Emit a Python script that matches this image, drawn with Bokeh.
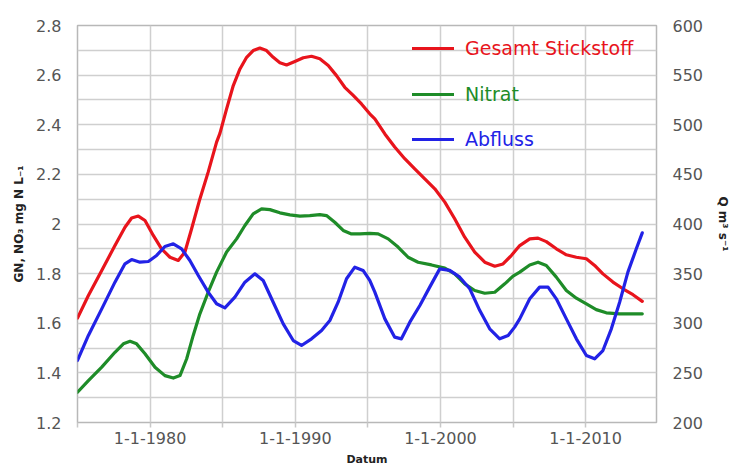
from bokeh.plotting import figure
from bokeh.models import (Range1d, LinearAxis, FixedTicker, CustomJSTickFormatter,
                          Legend, LegendItem)
from bokeh.embed import file_html
from bokeh.resources import INLINE

# ---------------- data ----------------
gn_year = [1975.0, 1975.75, 1976.67, 1977.58, 1978.27, 1978.73, 1979.19, 1979.65, 1980.22,
           1980.79, 1981.37, 1981.94, 1982.4, 1982.86, 1983.43, 1984.0, 1984.58, 1984.81,
           1985.27, 1985.73, 1986.19, 1986.65, 1987.1, 1987.56, 1988.02, 1988.48, 1988.94,
           1989.4, 1989.97, 1990.55, 1991.12, 1991.69, 1992.27, 1992.84, 1993.41, 1993.99,
           1994.56, 1995.13, 1995.48, 1996.17, 1996.85, 1997.54, 1998.23, 1998.92, 1999.61,
           2000.3, 2000.98, 2001.67, 2002.36, 2003.05, 2003.74, 2004.31, 2004.88, 2005.46,
           2006.15, 2006.72, 2007.29, 2007.98, 2008.67, 2009.36, 2010.05, 2010.62, 2011.19,
           2011.88, 2012.57, 2013.26, 2013.9]
gn_value = [1.621, 1.712, 1.813, 1.913, 1.987, 2.024, 2.032, 2.014, 1.954,
            1.900, 1.866, 1.853, 1.887, 1.981, 2.101, 2.209, 2.330, 2.365,
            2.464, 2.558, 2.625, 2.672, 2.699, 2.709, 2.699, 2.672, 2.650,
            2.641, 2.655, 2.670, 2.676, 2.666, 2.639, 2.598, 2.551, 2.518,
            2.484, 2.444, 2.424, 2.363, 2.310, 2.263, 2.222, 2.182, 2.142,
            2.088, 2.021, 1.947, 1.887, 1.846, 1.830, 1.839, 1.873, 1.913,
            1.940, 1.943, 1.929, 1.900, 1.876, 1.866, 1.860, 1.833, 1.799,
            1.766, 1.739, 1.715, 1.688]

no3_year = [1975.0, 1975.75, 1976.67, 1977.58, 1978.16, 1978.62, 1979.07, 1979.65, 1980.34,
            1981.02, 1981.6, 1982.06, 1982.52, 1982.97, 1983.43, 1984.0, 1984.58, 1985.27,
            1985.96, 1986.53, 1987.1, 1987.68, 1988.25, 1988.94, 1989.63, 1990.32, 1991.0,
            1991.69, 1992.15, 1992.72, 1993.3, 1993.87, 1994.45, 1995.13, 1995.71, 1996.4,
            1997.08, 1997.77, 1998.46, 1999.38, 2000.3, 2000.98, 2001.67, 2002.36, 2003.05,
            2003.74, 2004.43, 2005.0, 2005.46, 2006.15, 2006.72, 2007.29, 2007.98, 2008.67,
            2009.36, 2010.05, 2010.73, 2011.42, 2012.34, 2013.26, 2013.9]
no3_value = [1.322, 1.369, 1.423, 1.483, 1.517, 1.527, 1.517, 1.477, 1.423,
             1.389, 1.379, 1.389, 1.457, 1.551, 1.638, 1.725, 1.806, 1.887,
             1.940, 1.994, 2.041, 2.061, 2.058, 2.045, 2.037, 2.032, 2.034,
             2.038, 2.034, 2.007, 1.974, 1.960, 1.960, 1.962, 1.960, 1.940,
             1.907, 1.866, 1.846, 1.835, 1.822, 1.799, 1.759, 1.732, 1.721,
             1.725, 1.759, 1.790, 1.806, 1.835, 1.846, 1.833, 1.786, 1.732,
             1.701, 1.678, 1.655, 1.642, 1.638, 1.638, 1.638]

q_year = [1975.0, 1975.75, 1976.67, 1977.58, 1978.27, 1978.73, 1979.3, 1979.88, 1980.45,
          1981.02, 1981.6, 1982.17, 1982.74, 1983.32, 1984.0, 1984.58, 1985.15, 1985.84,
          1986.53, 1987.22, 1987.79, 1988.48, 1989.17, 1989.86, 1990.43, 1991.12, 1991.81,
          1992.38, 1992.95, 1993.53, 1994.1, 1994.67, 1995.13, 1995.48, 1996.17, 1996.85,
          1997.31, 1997.89, 1998.58, 1999.26, 1999.95, 2000.64, 2001.33, 2002.02, 2002.71,
          2003.39, 2004.08, 2004.66, 2005.11, 2005.46, 2006.15, 2006.83, 2007.41, 2007.98,
          2008.67, 2009.36, 2010.05, 2010.62, 2011.19, 2011.77, 2012.34, 2012.91, 2013.49,
          2013.9]
q_value = [262.5, 287.7, 314.5, 341.4, 359.9, 364.2, 361.5, 362.2, 368.3,
           377.3, 380.0, 375.0, 363.2, 348.1, 331.3, 319.6, 315.5, 326.3,
           341.4, 349.8, 343.1, 321.2, 299.4, 282.6, 277.6, 284.3, 292.7,
           302.8, 321.2, 344.8, 356.5, 353.2, 343.1, 331.3, 304.4, 286.0,
           284.3, 301.1, 317.9, 336.4, 354.8, 353.2, 346.4, 334.7, 312.8,
           294.4, 284.3, 287.7, 296.1, 304.4, 324.6, 336.4, 336.4, 324.6,
           304.4, 284.3, 267.5, 264.2, 272.5, 294.4, 321.2, 351.5, 375.0,
           391.1]

series_names = ["Gesamt Stickstoff", "Nitrat", "Abfluss"]
series_colors = ["#e8141c", "#1e8c28", "#2222e6"]

x_grid_ticks = [1975, 1980, 1985, 1990, 1995, 2000, 2005, 2010, 2015]
left_ticks = [1.2, 1.4, 1.6, 1.8, 2.0, 2.2, 2.4, 2.6, 2.8]
left_grid_ticks = [round(1.2 + 0.1 * i, 1) for i in range(17)]
right_ticks = [200, 250, 300, 350, 400, 450, 500, 550, 600]

x_title = "Datum"
left_title = "GN, NO₃ mg N L₋₁"
right_title = "Q m³ s⁻¹"

# ---------------- figure ----------------
FONT = "DejaVu Sans"
p = figure(width=733, height=468, output_backend="svg", toolbar_location=None,
           x_range=Range1d(1975, 2014.88), y_range=Range1d(1.2, 2.8),
           min_border_left=77, min_border_right=76, min_border_top=25,
           min_border_bottom=46)
p.extra_y_ranges = {"q": Range1d(200, 600)}
p.background_fill_color = "white"
p.border_fill_color = "white"
p.outline_line_color = "#b8b8b8"
p.outline_line_width = 1.5

# grids
p.xgrid.ticker = FixedTicker(ticks=x_grid_ticks)
p.ygrid.ticker = FixedTicker(ticks=left_grid_ticks)
for g in (p.xgrid[0], p.ygrid[0]):
    g.grid_line_color = "#cfcfcf"
    g.grid_line_width = 1.5

# bottom axis
xa = p.xaxis[0]
xa.ticker = FixedTicker(ticks=x_grid_ticks)
xa.formatter = CustomJSTickFormatter(code="return (Math.round(tick) % 10 == 0) ? '1-1-' + Math.round(tick) : '';")
xa.axis_line_color = None
xa.major_tick_line_color = "#c8c8c8"
xa.major_tick_line_width = 1.5
xa.major_tick_in = 0
xa.major_tick_out = 5
xa.minor_tick_line_color = None
xa.major_label_standoff = 4
xa.major_label_text_font = FONT
xa.major_label_text_font_size = "16px"
xa.major_label_text_color = "#555555"
xa.axis_label = x_title
xa.axis_label_text_font = FONT
xa.axis_label_text_font_style = "bold"
xa.axis_label_text_font_size = "11px"
xa.axis_label_text_color = "#222222"
xa.axis_label_standoff = 6

# left axis
ya = p.yaxis[0]
ya.ticker = FixedTicker(ticks=left_ticks)
ya.formatter = CustomJSTickFormatter(code="var s = tick.toFixed(1); return s.endsWith('.0') ? s.slice(0, -2) : s;")
ya.axis_line_color = None
ya.major_tick_line_color = None
ya.major_tick_out = 0
ya.major_tick_in = 0
ya.minor_tick_line_color = None
ya.major_label_standoff = 16
ya.major_label_text_font = FONT
ya.major_label_text_font_size = "16px"
ya.major_label_text_color = "#555555"
ya.axis_label = left_title
ya.axis_label_text_font = FONT
ya.axis_label_text_font_style = "bold"
ya.axis_label_text_font_size = "12px"
ya.axis_label_text_color = "#222222"
ya.axis_label_standoff = 7

# right axis
ra = LinearAxis(y_range_name="q", ticker=FixedTicker(ticks=right_ticks))
ra.axis_line_color = None
ra.major_tick_line_color = None
ra.major_tick_out = 0
ra.major_tick_in = 0
ra.minor_tick_line_color = None
ra.major_label_standoff = 16
ra.major_label_text_font = FONT
ra.major_label_text_font_size = "16px"
ra.major_label_text_color = "#555555"
ra.axis_label = right_title
ra.axis_label_text_font = FONT
ra.axis_label_text_font_style = "bold"
ra.axis_label_text_font_size = "12px"
ra.axis_label_text_color = "#222222"
ra.axis_label_standoff = 10
p.add_layout(ra, "right")

# lines
r_gn = p.line(gn_year, gn_value, line_color=series_colors[0], line_width=3.2,
              line_join="round", line_cap="round")
r_no3 = p.line(no3_year, no3_value, line_color=series_colors[1], line_width=3.2,
               line_join="round", line_cap="round")
r_q = p.line(q_year, q_value, line_color=series_colors[2], line_width=3.2,
             line_join="round", line_cap="round", y_range_name="q")

# legends (one per entry so each label keeps its own colour)
legend_pos = [(335, 363), (335, 317), (335, 272)]
for name, col, rend, loc in zip(series_names, series_colors, [r_gn, r_no3, r_q], legend_pos):
    lg = Legend(items=[LegendItem(label=name, renderers=[rend])], location=loc,
                glyph_width=42, glyph_height=20, label_standoff=11,
                padding=0, margin=0, border_line_color=None,
                background_fill_alpha=0, label_text_color=col,
                label_text_font=FONT, label_text_font_size="19px",
                label_height=20)
    p.add_layout(lg, "center")

open("out.html", "w").write(file_html(p, INLINE))
